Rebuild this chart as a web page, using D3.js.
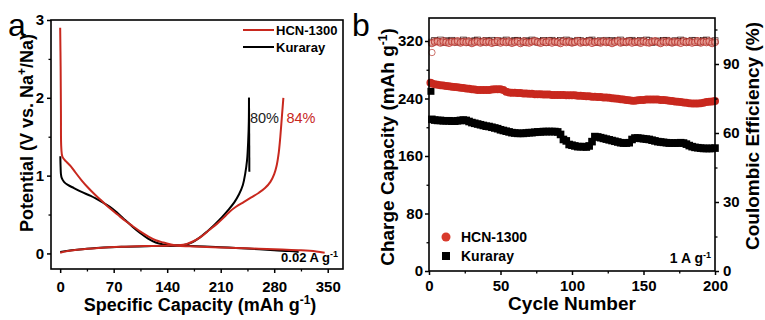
<!DOCTYPE html>
<html><head><meta charset="utf-8">
<script src="https://cdn.jsdelivr.net/npm/d3@7"></script>
<style>
body{margin:0;background:#fff}
svg text{font-family:"Liberation Sans",Arial,Helvetica,sans-serif}
</style>
</head><body>
<svg id="chart" width="765" height="320"></svg>
<script>
// ---------------- DATA ----------------
// Panel a: galvanostatic profiles [capacity mAh/g, potential V]
const xTicksA = [0, 70, 140, 210, 280, 350];
const xMinorA = [35, 105, 175, 245, 315];
const yTicksA = [0, 1, 2, 3];
const yMinorA = [0.5, 1.5, 2.5];

const hcnDischarge = [[0,2.9],[0.6,2.4],[1,1.8],[1.5,1.35],[3,1.24],[8,1.18],[14,1.12],[20,1.04],[28,0.94],[36,0.85],[45,0.76],[55,0.67],[65,0.58],[75,0.5],[85,0.42],[95,0.35],[105,0.28],[115,0.22],[125,0.17],[135,0.14],[145,0.115],[155,0.1],[175,0.09],[200,0.08],[230,0.07],[260,0.06],[290,0.05],[315,0.04],[335,0.025],[346,0.01]];
const hcnCharge = [[0,0.01],[10,0.03],[25,0.05],[50,0.07],[80,0.085],[110,0.095],[140,0.1],[155,0.105],[165,0.12],[175,0.16],[185,0.22],[195,0.3],[205,0.38],[215,0.47],[222,0.54],[230,0.6],[240,0.66],[250,0.72],[260,0.78],[268,0.84],[275,0.92],[280,1.02],[283,1.12],[286,1.3],[288,1.5],[290,1.75],[292,2.0]];
const kurDischarge = [[0.2,1.25],[0.6,1.1],[1,1.02],[2,0.97],[5,0.92],[10,0.88],[18,0.84],[28,0.79],[40,0.74],[55,0.66],[65,0.6],[75,0.52],[85,0.43],[95,0.34],[105,0.26],[115,0.19],[125,0.14],[135,0.115],[145,0.105],[160,0.1],[190,0.09],[220,0.075],[250,0.06],[280,0.04],[300,0.03],[312,0.02]];
const kurCharge = [[0,0.02],[15,0.04],[40,0.065],[80,0.085],[120,0.095],[150,0.1],[162,0.11],[172,0.14],[182,0.2],[192,0.28],[202,0.37],[212,0.47],[220,0.56],[228,0.66],[234,0.76],[239,0.88],[242,1.02],[244.5,1.2],[246,1.45],[246.8,1.7],[247,2.0]];
const kurRest = [[247,2.0],[247.5,1.05]];

// Panel b: cycling at 1 A/g
const xTicksB = [0, 50, 100, 150, 200];
const xMinorB = [25, 75, 125, 175];
const yTicksB = [0, 80, 160, 240, 320];
const yMinorB = [40, 120, 200, 280];
const ceTicks = [0, 30, 60, 90];
const ceMinor = [15, 45, 75, 105];

const cycleFirst = 1;
const hcnCapFirst = 262, kurCapFirst = 250, hcnCEFirst = 95.0, kurCEFirst = 97.5;
// cycles 2,4,...,200
const hcnCap = [261,260,259,258.5,258,257.5,257,256.5,256,255.5,
255,254.5,254,253.5,253,252.5,252,252,252,252,
252,252.5,253,253,253,252,249.5,248.5,248,248,
247.5,247.5,247,247,246.5,246.5,246,246,246,245.5,
245.5,245.5,245,245,245,245,245,244.5,244.5,244.5,
244.5,244,244,243.5,243,243,242.5,242.5,242,242,
241.5,241.5,241,240.5,240,239.5,239,238.5,238,237.5,
237,237,237.5,238,238,238.5,238.5,238.5,238.5,238.5,
238,238,237.5,237,236.5,236,235.5,235,234.5,234,
233.5,233,233,233,233.5,234,235,235.5,236,236.5];
const kurCap = [211,210,209.5,209.5,209,209,209,208.5,208.5,209,
209.5,210,209.5,208,206.5,205.5,204.5,203.5,202.5,201.5,
201,200,199,198,196.5,195.5,194.5,193.5,192.5,192,
191.5,191.5,191.5,192,192.5,192.5,193,193.5,193.5,194,
194,194,194,194,193.5,190,183,181,176,175,
174,173,173,173,172.5,174,180,187,186.5,185.5,
184.5,183.5,182.5,181.5,180.5,179.5,178.5,178,178,178.5,
183,185,185,184.5,184,183.5,183,182,181,180,
179.5,179,178.5,178,178,178,178,178.5,178,176.5,
174.5,173,172,171.5,171,170.5,170.5,170.5,170.5,171];
const hcnCE = [99.0,99.6,99.8,99.2,99.9,99.4,99.1,99.7,99.5,100.0,
99.2,99.7,99.4,99.9,99.0,99.5,99.8,99.2,99.9,99.4,
99.7,99.1,99.5,100.0,99.2,99.7,99.4,99.9,99.1,99.5,
99.8,99.0,99.9,99.4,99.2,99.7,100.0,99.5,99.1,99.8,
99.4,99.9,99.2,99.7,99.5,99.0,99.9,99.4,99.8,99.2,
99.5,100.0,99.2,99.7,99.4,99.9,99.1,99.5,99.8,99.2,
99.9,99.4,99.7,99.0,99.5,100.0,99.2,99.8,99.4,99.9,
99.2,99.5,99.8,99.1,99.9,99.4,99.2,99.7,100.0,99.5,
99.0,99.8,99.4,99.9,99.2,99.7,99.5,99.1,99.9,99.4,
99.8,99.2,99.5,100.0,99.2,99.7,99.4,99.9,99.0,99.5];
const kurCE = [99.5,100.2,99.8,100.4,99.4,100.1,99.7,100.3,99.9,99.5,
99.7,100.4,100.0,99.4,99.8,100.1,100.4,99.7,99.5,100.2,
99.8,100.3,99.4,100.1,99.7,100.0,100.4,99.5,99.8,100.2,
100.3,99.7,99.4,100.1,99.8,100.4,100.0,99.5,99.7,100.2,
99.4,100.1,100.3,99.8,99.5,100.2,99.7,100.4,100.0,99.4,
99.8,100.3,100.1,99.5,99.7,100.2,100.4,99.8,99.4,100.1,
99.7,100.3,99.5,100.2,99.8,100.0,100.4,99.4,99.7,100.1,
100.3,99.8,99.5,100.2,99.7,100.4,100.1,99.4,99.8,100.0,
99.5,100.2,100.3,99.7,99.4,100.1,99.8,100.4,100.0,99.5,
99.7,100.3,100.1,99.4,99.8,100.2,100.4,99.7,99.5,100.1];
const cyclesB = d3.range(2, 201, 2);

// ---------------- DRAW ----------------
const RED = "#c8281e", BLACK = "#000";
const svg = d3.select("#chart");
const FONT_TICK = 15;
const fmtInt = d3.format("d");

function frame(x0, y0, x1, y1) {
  svg.append("rect").attr("x", x0).attr("y", y0).attr("width", x1 - x0).attr("height", y1 - y0)
    .attr("fill", "none").attr("stroke", "#000").attr("stroke-width", 1.6);
}
function styleAxis(g) {
  g.select(".domain").remove();
  g.selectAll("line").attr("stroke", "#000").attr("stroke-width", 1.5);
  g.selectAll("text").attr("font-size", FONT_TICK).attr("font-weight", "bold").attr("fill", "#000")
    .attr("font-family", '"Liberation Sans",Arial,sans-serif');
}
function minor(g) {
  g.select(".domain").remove();
  g.selectAll("text").remove();
  g.selectAll("line").attr("stroke", "#000").attr("stroke-width", 1.3);
}

// ----- Panel a -----
const xA = d3.scaleLinear().domain([-12, 370]).range([51, 343]);
const yA = d3.scaleLinear().domain([-0.2, 3]).range([269, 20]);

const line = d3.line().x(d => xA(d[0])).y(d => yA(d[1])).curve(d3.curveCatmullRom.alpha(0.5));
const LW = 2;
const lineA = svg.append("g");
lineA.append("path").datum(kurDischarge).attr("d", line).attr("fill", "none").attr("stroke", BLACK).attr("stroke-width", LW);
lineA.append("path").datum(kurCharge).attr("d", line).attr("fill", "none").attr("stroke", BLACK).attr("stroke-width", LW);
lineA.append("path").datum(kurRest).attr("d", d3.line().x(d => xA(d[0])).y(d => yA(d[1]))).attr("fill", "none").attr("stroke", BLACK).attr("stroke-width", LW);
lineA.append("path").datum(hcnDischarge).attr("d", line).attr("fill", "none").attr("stroke", RED).attr("stroke-width", LW);
lineA.append("path").datum(hcnCharge).attr("d", line).attr("fill", "none").attr("stroke", RED).attr("stroke-width", LW);

frame(51, 20, 343, 269);
svg.append("g").attr("transform", "translate(0,269)")
  .call(d3.axisBottom(xA).tickValues(xTicksA).tickFormat(fmtInt).tickSize(4).tickPadding(8)).call(styleAxis);
svg.append("g").attr("transform", "translate(0,269)")
  .call(d3.axisBottom(xA).tickValues(xMinorA).tickSize(2.5)).call(minor);
svg.append("g").attr("transform", "translate(51,0)")
  .call(d3.axisLeft(yA).tickValues(yTicksA).tickFormat(fmtInt).tickSize(4).tickPadding(3)).call(styleAxis);
svg.append("g").attr("transform", "translate(51,0)")
  .call(d3.axisLeft(yA).tickValues(yMinorA).tickSize(2.5)).call(minor);

// legend a
const legA = [{name: "HCN-1300", c: RED, y: 30}, {name: "Kuraray", c: BLACK, y: 47}];
legA.forEach(l => {
  svg.append("line").attr("x1", 243).attr("x2", 274).attr("y1", l.y).attr("y2", l.y).attr("stroke", l.c).attr("stroke-width", 2);
  svg.append("text").attr("x", 276).attr("y", l.y + 4.5).attr("font-size", 13).attr("font-weight", "bold").text(l.name);
});
// annotations a
svg.append("text").attr("x", xA(247) + 1).attr("y", 123).attr("font-size", 14.5).attr("fill", "#222").text("80%");
svg.append("text").attr("x", xA(292) + 3).attr("y", 123).attr("font-size", 14.5).attr("fill", RED).text("84%");
const t1 = svg.append("text").attr("x", 338).attr("y", 262).attr("text-anchor", "end").attr("font-size", 13).attr("font-weight", "bold");
t1.append("tspan").text("0.02 A g");
t1.append("tspan").attr("dy", -5).attr("font-size", 9).text("-1");

// titles a
const tya = svg.append("text").attr("transform", "translate(33,133) rotate(-90)").attr("text-anchor", "middle").attr("font-size", 18).attr("font-weight", "bold");
tya.append("tspan").text("Potential (V vs. Na");
tya.append("tspan").attr("dy", -7).attr("font-size", 12).text("+");
tya.append("tspan").attr("dy", 7).text("/Na)");
const txa = svg.append("text").attr("x", 200).attr("y", 311).attr("text-anchor", "middle").attr("font-size", 18).attr("font-weight", "bold");
txa.append("tspan").text("Specific Capacity (mAh g");
txa.append("tspan").attr("dy", -7).attr("font-size", 12).text("-1");
txa.append("tspan").attr("dy", 7).text(")");

svg.append("text").attr("x", 8).attr("y", 36).attr("font-size", 32).text("a");
svg.append("text").attr("x", 352).attr("y", 36).attr("font-size", 32).text("b");

// ----- Panel b -----
const xB = d3.scaleLinear().domain([0, 200]).range([429, 715]);
const yB = d3.scaleLinear().domain([0, 352]).range([271, 18]);
const yCE = d3.scaleLinear().domain([0, 110]).range([271, 18]);

const gB = svg.append("g");
// CE Kuraray (behind)
gB.selectAll(".kce").data(cyclesB.map((c, i) => [c, kurCE[i]])).join("rect")
  .attr("x", d => xB(d[0]) - 3).attr("y", d => yCE(d[1]) - 3).attr("width", 6).attr("height", 6)
  .attr("fill", "none").attr("stroke", "#3a1410").attr("stroke-width", 0.7);
// CE HCN
gB.selectAll(".hce").data(cyclesB.map((c, i) => [c, hcnCE[i]])).join("circle")
  .attr("cx", d => xB(d[0])).attr("cy", d => yCE(d[1])).attr("r", 3.5)
  .attr("fill", "#e8968c").attr("fill-opacity", 0.6).attr("stroke", "#b8302a").attr("stroke-width", 0.8);
gB.append("circle").attr("cx", xB(cycleFirst) + 1.5).attr("cy", yCE(hcnCEFirst)).attr("r", 3.2)
  .attr("fill", "none").attr("stroke", "#c05048").attr("stroke-width", 0.8);

// capacities
gB.selectAll(".kc").data(cyclesB.map((c, i) => [c, kurCap[i]])).join("rect")
  .attr("x", d => xB(d[0]) - 3.8).attr("y", d => yB(d[1]) - 3.8).attr("width", 7.6).attr("height", 7.6).attr("fill", BLACK);
gB.append("rect").attr("x", xB(cycleFirst) - 3).attr("y", yB(kurCapFirst) - 3.5).attr("width", 7).attr("height", 7).attr("fill", BLACK);
gB.selectAll(".hc").data(cyclesB.map((c, i) => [c, hcnCap[i]])).join("circle")
  .attr("cx", d => xB(d[0])).attr("cy", d => yB(d[1])).attr("r", 4).attr("fill", RED);
gB.append("circle").attr("cx", xB(cycleFirst)).attr("cy", yB(hcnCapFirst)).attr("r", 4).attr("fill", RED);

frame(429, 18, 715, 271);
svg.append("g").attr("transform", "translate(0,271)")
  .call(d3.axisBottom(xB).tickValues(xTicksB).tickFormat(fmtInt).tickSize(4).tickPadding(5)).call(styleAxis);
svg.append("g").attr("transform", "translate(0,271)")
  .call(d3.axisBottom(xB).tickValues(xMinorB).tickSize(2.5)).call(minor);
svg.append("g").attr("transform", "translate(429,0)")
  .call(d3.axisLeft(yB).tickValues(yTicksB).tickFormat(fmtInt).tickSize(4).tickPadding(2)).call(styleAxis);
svg.append("g").attr("transform", "translate(429,0)")
  .call(d3.axisLeft(yB).tickValues(yMinorB).tickSize(2.5)).call(minor);
svg.append("g").attr("transform", "translate(715,0)")
  .call(d3.axisRight(yCE).tickValues(ceTicks).tickFormat(fmtInt).tickSize(4).tickPadding(4)).call(styleAxis);
svg.append("g").attr("transform", "translate(715,0)")
  .call(d3.axisRight(yCE).tickValues(ceMinor).tickSize(2.5)).call(minor);

// legend b
svg.append("circle").attr("cx", 446).attr("cy", 237).attr("r", 4.5).attr("fill", "#d83a2c");
svg.append("text").attr("x", 461).attr("y", 242).attr("font-size", 14).attr("font-weight", "bold").text("HCN-1300");
svg.append("rect").attr("x", 442).attr("y", 252).attr("width", 8).attr("height", 8).attr("fill", BLACK);
svg.append("text").attr("x", 461).attr("y", 261).attr("font-size", 14).attr("font-weight", "bold").text("Kuraray");
const t2 = svg.append("text").attr("x", 711).attr("y", 263).attr("text-anchor", "end").attr("font-size", 14).attr("font-weight", "bold");
t2.append("tspan").text("1 A g");
t2.append("tspan").attr("dy", -5).attr("font-size", 9).text("-1");

// titles b
const tyb = svg.append("text").attr("transform", "translate(394,147) rotate(-90)").attr("text-anchor", "middle").attr("font-size", 19).attr("font-weight", "bold");
tyb.append("tspan").text("Charge Capacity  (mAh g");
tyb.append("tspan").attr("dy", -7).attr("font-size", 12).text("-1");
tyb.append("tspan").attr("dy", 7).text(")");
svg.append("text").attr("transform", "translate(759,136) rotate(-90)").attr("text-anchor", "middle").attr("font-size", 19).attr("font-weight", "bold").text("Coulombic Efficiency (%)");
svg.append("text").attr("x", 572).attr("y", 310).attr("text-anchor", "middle").attr("font-size", 19).attr("font-weight", "bold").text("Cycle Number");
</script>
</body></html>
